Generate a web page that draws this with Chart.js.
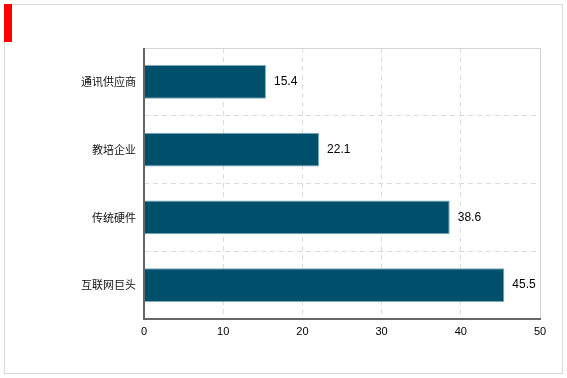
<!DOCTYPE html>
<html>
<head>
<meta charset="utf-8">
<script src="https://cdn.jsdelivr.net/npm/chart.js@4"></script>
<style>
  html, body { margin: 0; padding: 0; background: #fff; }
  #box { width: 567px; height: 378px; }
</style>
</head>
<body>
<div id="box"><canvas id="bars"></canvas></div>
<script>
const companies = ["通讯供应商", "教培企业", "传统硬件", "互联网巨头"];
const shares = [15.4, 22.1, 38.6, 45.5];
const xTicks = [0, 10, 20, 30, 40, 50];

// frame, red marker, plot border and value labels
const decor = {
  id: 'decor',
  beforeDraw(chart) {
    const c = chart.ctx;
    c.save();
    c.fillStyle = '#fff';
    c.fillRect(0, 0, chart.width, chart.height);
    c.strokeStyle = '#d9d9d9';
    c.lineWidth = 1;
    c.strokeRect(4.5, 4.5, 558, 369);
    c.fillStyle = '#ff0000';
    c.fillRect(4, 4, 8, 38);
    c.restore();
  },
  afterDatasetsDraw(chart) {
    const c = chart.ctx;
    const a = chart.chartArea;
    c.save();
    c.strokeStyle = '#d4d4d4';
    c.lineWidth = 1;
    c.beginPath();
    c.moveTo(a.left, a.top + 0.5);
    c.lineTo(a.right + 0.5, a.top + 0.5);
    c.lineTo(a.right + 0.5, a.bottom);
    c.stroke();
    c.strokeStyle = '#666';
    c.lineWidth = 2;
    c.beginPath();
    c.moveTo(a.left, a.top);
    c.lineTo(a.left, a.bottom);
    c.lineTo(a.right + 1, a.bottom);
    c.stroke();

    c.fillStyle = '#000';
    c.font = '12px "Liberation Sans", Arial, sans-serif';
    c.textBaseline = 'middle';
    c.textAlign = 'left';
    chart.getDatasetMeta(0).data.forEach((bar, i) => {
      c.fillText(shares[i].toFixed(1), bar.x + 8, bar.y);
    });
    c.restore();
  }
};

new Chart(document.getElementById('bars'), {
  type: 'bar',
  data: {
    labels: companies,
    datasets: [{
      data: shares,
      backgroundColor: '#01506b',
      borderColor: '#7aa9bb',
      borderWidth: 1,
      barPercentage: 0.5,
      categoryPercentage: 1
    }]
  },
  options: {
    indexAxis: 'y',
    responsive: true,
    maintainAspectRatio: false,
    animation: false,
    layout: { padding: { left: 0, right: 27, top: 48, bottom: 0 } },
    plugins: { legend: { display: false }, tooltip: { enabled: false } },
    scales: {
      x: {
        min: 0, max: 50,
        afterBuildTicks: s => { s.ticks = xTicks.map(v => ({ value: v })); },
        afterFit: s => { s.height = 59; },
        border: { display: false, dash: [5, 4] },
        grid: { color: '#dcdcdc', drawTicks: false },
        ticks: {
          padding: 6,
          color: '#000',
          font: { family: '"Liberation Sans", Arial, sans-serif', size: 11 }
        }
      },
      y: {
        afterFit: s => { s.width = 144; },
        border: { display: false, dash: [5, 4] },
        grid: { color: '#dcdcdc', drawTicks: false, offset: true },
        ticks: {
          padding: 8,
          color: '#111',
          font: { family: '"Noto Sans CJK SC", sans-serif', size: 11 }
        }
      }
    }
  },
  plugins: [decor]
});
</script>
</body>
</html>
